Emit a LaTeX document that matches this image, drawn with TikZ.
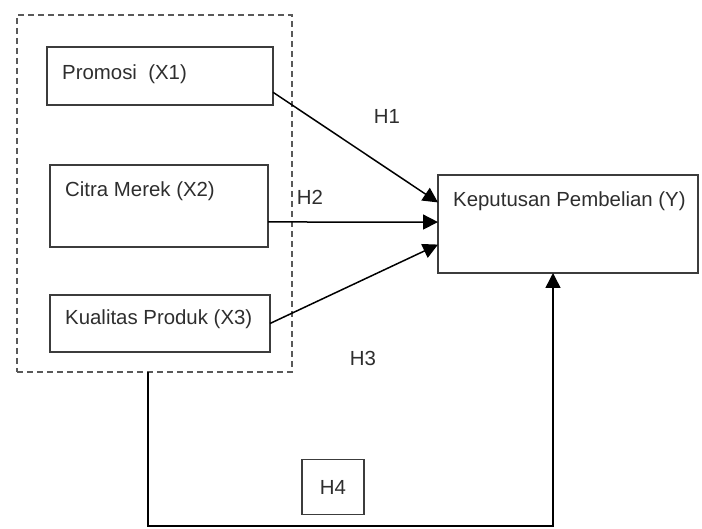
\documentclass[tikz,border=0pt]{standalone}
\usepackage{fontspec}
\setmainfont{Liberation Sans}
\usepackage{xcolor}
\usepackage{tikz}
\usetikzlibrary{positioning, arrows.meta, calc}
\definecolor{boxgray}{HTML}{3C3C3C}
\definecolor{txtgray}{HTML}{2E2E2E}

\begin{document}
\begin{tikzpicture}[
    x=1pt, y=-1pt,
    box/.style={rectangle, draw=boxgray, line width=1.6pt, anchor=north west, outer sep=0pt, inner sep=0pt},
    grpbox/.style={rectangle, draw=boxgray!85, line width=1.3pt, dash pattern=on 6pt off 4pt, anchor=north west, outer sep=0pt, inner sep=0pt},
    txt/.style={anchor=base west, inner sep=0pt, text=txtgray, font=\fontsize{20.4}{24}\selectfont},
    hyp/.style={anchor=base, inner sep=0pt, text=txtgray, font=\fontsize{20.4}{24}\selectfont},
    arr/.style={-{Triangle[length=15pt, width=15pt]}, line width=1.5pt, black}
]
\fill[white] (0,0) rectangle (702,529);
\useasboundingbox (0,0) rectangle (702,529);

\node[grpbox, minimum width=275pt, minimum height=357pt](grp) at (17,15){};

\node[box, minimum width=226pt, minimum height=58pt](x1) at (47,47){};
\node[box, minimum width=218pt, minimum height=82pt](x2) at (50,165){};
\node[box, minimum width=220pt, minimum height=57pt](x3) at (50,295){};
\node[box, minimum width=260pt, minimum height=98pt](y) at (438,175){};

\node[txt](tx1) at (62,80){Promosi\ \ (X1)};
\node[txt](tx2) at (65,197){Citra Merek (X2)};
\node[txt](tx3) at (65,325){Kualitas Produk (X3)};
\node[txt](ty) at (453,207){Keputusan Pembelian (Y)};

\node[hyp](h1) at (387,124){H1};
\node[hyp](h2) at (310,205){H2};
\node[hyp](h3) at (363,366){H3};
\node[box, anchor=center, minimum width=62pt, minimum height=55pt, text=txtgray, font=\fontsize{20.4}{24}\selectfont](h4) at (333,487){H4};

\draw[arr] ($(x1.north east)!0.78!(x1.south east)$) -- ($(y.north west)!0.28!(y.south west)$);
\draw[arr] ($(x2.north east)!0.695!(x2.south east)$) -- ($(y.north west)!0.48!(y.south west)$);
\draw[arr] (x3.east) -- ($(y.north west)!0.71!(y.south west)$);

\coordinate (c1) at ($(grp.south west)+(131,0)$);
\coordinate (c2) at (553,526);
\draw[arr] (c1) |- (c2) -- (c2 |- y.south);
\end{tikzpicture}
\end{document}
